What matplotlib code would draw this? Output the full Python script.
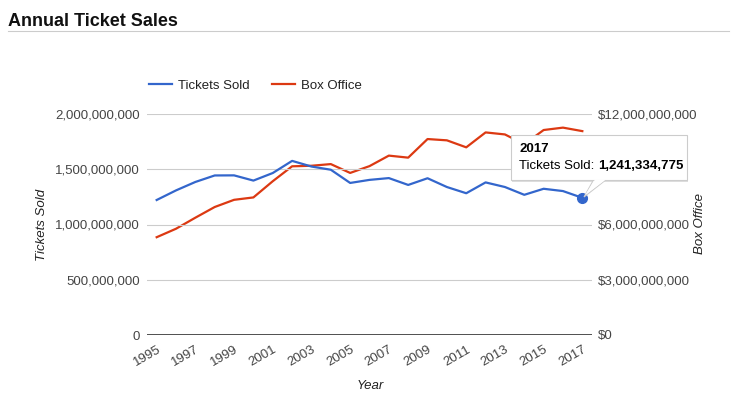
import matplotlib.pyplot as plt
from matplotlib.patches import Rectangle, Polygon
from matplotlib.text import Annotation
from matplotlib.ticker import FuncFormatter

plt.rcParams['font.family'] = ['Liberation Sans', 'DejaVu Sans']

years = list(range(1995, 2018))
tickets_sold = [1221705090, 1308660201, 1384966322, 1443820061, 1444664467,
                1397454420, 1465874205, 1575756527, 1524589620, 1495651298,
                1376042721, 1403779479, 1420036680, 1358042073, 1418567388,
                1339168927, 1282915168, 1380921942, 1339211745, 1268685489,
                1323356776, 1302556378, 1241334775]
box_office = [5.31e9, 5.77e9, 6.37e9, 6.95e9, 7.34e9,
              7.47e9, 8.35e9, 9.16e9, 9.19e9, 9.28e9,
              8.80e9, 9.17e9, 9.74e9, 9.63e9, 10.64e9,
              10.57e9, 10.19e9, 11.00e9, 10.89e9, 10.36e9,
              11.13e9, 11.26e9, 11.07e9]
x_ticks = years[::2]

W, H = 739, 403
fig = plt.figure(figsize=(W / 100, H / 100), dpi=100)

def fx(px):
    return px / W

def fy(py):
    return 1 - py / H

ax = fig.add_axes([fx(147), fy(335), fx(592) - fx(147), fy(114) - fy(335)])
ax2 = ax.twinx()

ax.plot(years, tickets_sold, color='#3366cc', lw=1.6, label='Tickets Sold', zorder=3)
ax2.plot(years, box_office, color='#dc3912', lw=1.6, label='Box Office', zorder=3)
ax.plot([years[-1]], [tickets_sold[-1]], 'o', color='#3366cc', ms=7, zorder=4, clip_on=False)

ax.set_xlim(1994.5, 2017.5)
ax.set_ylim(0, 2e9)
ax2.set_ylim(0, 12e9)
ax.set_yticks([0, 5e8, 1e9, 1.5e9, 2e9])
ax2.set_yticks([0, 3e9, 6e9, 9e9, 12e9])
ax.yaxis.set_major_formatter(FuncFormatter(lambda v, p: '{:,}'.format(int(v))))
# the $9B label sits under the tooltip in the reference
ax2.yaxis.set_major_formatter(FuncFormatter(lambda v, p: '' if v == 9e9 else '${:,}'.format(int(v))))
ax.set_xticks(x_ticks)
ax.set_xticklabels([str(y) for y in x_ticks], rotation=30, ha='right', rotation_mode='anchor')

for a in (ax, ax2):
    for s in a.spines.values():
        s.set_visible(False)
    a.tick_params(length=0, labelsize=9.5, labelcolor='#444444')
ax.tick_params(axis='y', pad=5)
ax2.tick_params(axis='y', pad=4)
ax.tick_params(axis='x', pad=6)
ax.grid(axis='y', color='#cccccc', lw=0.8)
ax.axhline(0, color='#333333', lw=1.2, zorder=2)
ax.patch.set_visible(False)
ax2.patch.set_visible(False)
ax2.set_zorder(0)
ax.set_zorder(1)

# title and rule
fig.text(fx(8), fy(21), 'Annual Ticket Sales', fontsize=13, fontweight='bold', color='#111111', va='center')
fig.add_artist(plt.Line2D([fx(8), fx(729)], [fy(31), fy(31)], color='#cccccc', lw=0.8))

# axis titles
fig.text(fx(42), fy(225), 'Tickets Sold', rotation=90, style='italic', fontsize=9.5,
         color='#222222', ha='center', va='center')
fig.text(fx(700), fy(224), 'Box Office', rotation=90, style='italic', fontsize=9.5,
         color='#222222', ha='center', va='center')
fig.text(fx(370), fy(386), 'Year', style='italic', fontsize=9.5, color='#222222',
         ha='center', va='center')

# legend
h1, l1 = ax.get_legend_handles_labels()
h2, l2 = ax2.get_legend_handles_labels()
fig.legend(h1[:1] + h2, l1[:1] + l2, loc='center left', bbox_to_anchor=(fx(149), fy(86)),
           ncol=2, frameon=False, fontsize=9.5, handlelength=1.75, handletextpad=0.45,
           columnspacing=1.7, borderpad=0, borderaxespad=0, labelcolor='#222222')

# tooltip
fig.add_artist(Rectangle((fx(512), fy(182)), fx(688) - fx(512), fy(136) - fy(182),
                         transform=fig.transFigure, facecolor='#dddddd', edgecolor='none', zorder=9))
fig.add_artist(Polygon([(fx(594), fy(179)), (fx(607), fy(179)), (fx(584), fy(197))],
                       closed=True, transform=fig.transFigure, facecolor='white',
                       edgecolor='#cccccc', lw=0.8, zorder=10))
fig.add_artist(Rectangle((fx(511), fy(180)), fx(687) - fx(511), fy(135) - fy(180),
                         transform=fig.transFigure, facecolor='white', edgecolor='#cccccc',
                         lw=0.8, zorder=10))
fig.add_artist(Polygon([(fx(595), fy(179.5)), (fx(606), fy(179.5)), (fx(585), fy(195))],
                       closed=True, transform=fig.transFigure, facecolor='white',
                       edgecolor='none', zorder=11))
fig.text(fx(519), fy(149), '2017', fontsize=9.5, fontweight='bold', color='#000000',
         va='center', zorder=12)
t1 = fig.text(fx(519), fy(166), 'Tickets Sold: ', fontsize=9.5, color='#000000',
              va='center', zorder=12)
ann = Annotation('{:,}'.format(tickets_sold[-1]), xy=(1, 0.5), xycoords=t1, va='center',
                 ha='left', fontsize=9.5, fontweight='bold', color='#000000')
ann.set_zorder(12)
fig.add_artist(ann)

fig.savefig('out.png', dpi=100)
